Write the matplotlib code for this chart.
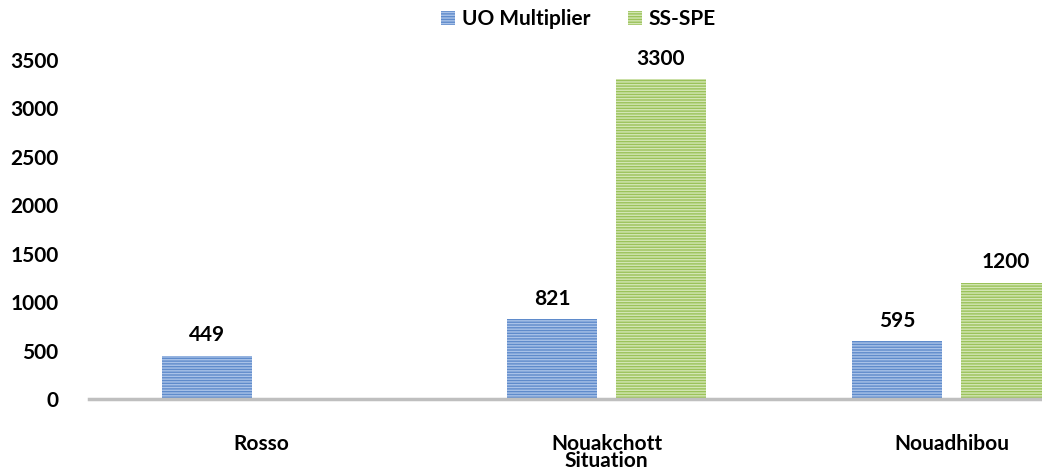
import matplotlib.pyplot as plt
import numpy as np

categories = ["Rosso", "Nouakchott\nSituation", "Nouadhibou"]
uo_multiplier = [449, 821, 595]
ss_spe = [None, 3300, 1200]
yticks = [0, 500, 1000, 1500, 2000, 2500, 3000, 3500]

plt.rcParams['font.family'] = ['Lato', 'DejaVu Sans']
plt.rcParams['hatch.linewidth'] = 1.0

fig = plt.figure(figsize=(10.42, 4.70), dpi=100)
# axes runs off the right edge like the original
ax = fig.add_axes([89 / 1042, 71 / 470, (1042 - 89) / 1042, (399 - 60) / 470])

x = np.arange(len(categories))
w = 0.26
off = 0.157

ss_x = [xi + off for xi, v in zip(x, ss_spe) if v is not None]
ss_vals = [v for v in ss_spe if v is not None]

b1 = ax.bar(x - off, uo_multiplier, w, color='#5f8bcb', hatch='------', edgecolor='#a9c2e8',
            linewidth=0, label='UO Multiplier')
b2 = ax.bar(ss_x, ss_vals, w, color='#9bc25a', hatch='------', edgecolor='#d3e6b4',
            linewidth=0, label='SS-SPE')

for xi, v in zip(x - off, uo_multiplier):
    ax.text(xi, v + 110, str(v), ha='center', va='bottom', fontsize=15, weight='bold')
for xi, v in zip(ss_x, ss_vals):
    ax.text(xi, v + 110, str(v), ha='center', va='bottom', fontsize=15, weight='bold')

ax.set_xlim(-0.5, (1042 - 89) / 345 - 0.5)
ax.set_ylim(0, 3500)
ax.set_yticks(yticks)
ax.set_xticks(x)
ax.set_xticklabels(categories, fontsize=15, weight='bold', linespacing=0.8)
for lbl in ax.get_yticklabels():
    lbl.set_fontsize(15)
    lbl.set_fontweight('bold')

for s in ['top', 'right', 'left']:
    ax.spines[s].set_visible(False)
ax.spines['bottom'].set_color('#bfbfbf')
ax.spines['bottom'].set_linewidth(2.5)
ax.tick_params(axis='y', length=0, pad=22)
ax.tick_params(axis='x', length=0, pad=25)

fig.legend(handles=[b1, b2], loc='upper center', bbox_to_anchor=(0.555, 1.02), ncol=2,
           frameon=False, handlelength=0.7, handleheight=0.7,
           handletextpad=0.3, columnspacing=1.8, prop={'weight': 'bold', 'size': 15})

fig.savefig('out.png', dpi=100)
